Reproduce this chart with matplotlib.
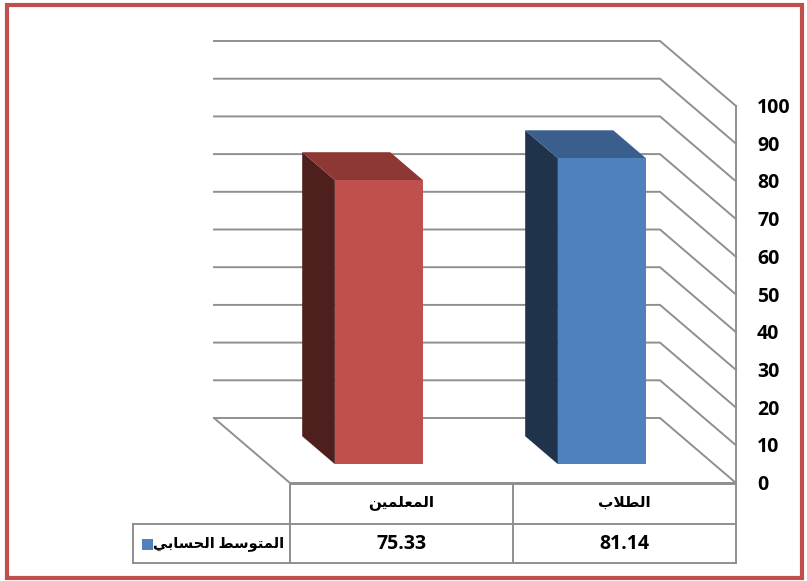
import matplotlib
matplotlib.use("Agg")
import matplotlib.pyplot as plt
from matplotlib.patches import Polygon, Rectangle

# ---------------- data ----------------
categories = ['المعلمين', 'الطلاب']
values = [75.33, 81.14]
series_name = 'المتوسط الحسابي'
y_ticks = [0, 10, 20, 30, 40, 50, 60, 70, 80, 90, 100]
bar_colors = [  # front, side, top
    ('#C0504D', '#4F1F1E', '#8E3835'),
    ('#4F81BD', '#1F334B', '#3A5F8C'),
]
legend_color = '#4F81BD'

# ---------------- Arabic shaping (presentation forms) ----------------
FORMS = {
    'ا': ('\uFE8D', '\uFE8E', None, None),
    'ب': ('\uFE8F', '\uFE90', '\uFE91', '\uFE92'),
    'ت': ('\uFE95', '\uFE96', '\uFE97', '\uFE98'),
    'ح': ('\uFEA1', '\uFEA2', '\uFEA3', '\uFEA4'),
    'س': ('\uFEB1', '\uFEB2', '\uFEB3', '\uFEB4'),
    'ط': ('\uFEC1', '\uFEC2', '\uFEC3', '\uFEC4'),
    'ع': ('\uFEC9', '\uFECA', '\uFECB', '\uFECC'),
    'ل': ('\uFEDD', '\uFEDE', '\uFEDF', '\uFEE0'),
    'م': ('\uFEE1', '\uFEE2', '\uFEE3', '\uFEE4'),
    'ن': ('\uFEE5', '\uFEE6', '\uFEE7', '\uFEE8'),
    'و': ('\uFEED', '\uFEEE', None, None),
    'ي': ('\uFEF1', '\uFEF2', '\uFEF3', '\uFEF4'),
    'LA': ('\uFEFB', '\uFEFC', None, None),
}


def shape(text):
    units = []
    i = 0
    while i < len(text):
        if text[i] == 'ل' and i + 1 < len(text) and text[i + 1] == 'ا':
            units.append('LA')
            i += 2
        else:
            units.append(text[i])
            i += 1
    out = []
    for k, u in enumerate(units):
        if u not in FORMS:
            out.append(u)
            continue
        f = FORMS[u]
        prev = units[k - 1] if k > 0 else None
        nxt = units[k + 1] if k + 1 < len(units) else None
        jp = prev in FORMS and FORMS[prev][2] is not None
        jn = nxt in FORMS and f[2] is not None
        if jp and jn:
            out.append(f[3])
        elif jp:
            out.append(f[1])
        elif jn:
            out.append(f[2])
        else:
            out.append(f[0])
    return ''.join(out)[::-1]


# ---------------- figure ----------------
W, H = 807, 581
fig = plt.figure(figsize=(W / 100, H / 100), dpi=100)
ax = fig.add_axes([0, 0, 1, 1])
ax.set_xlim(0, W)
ax.set_ylim(H, 0)
ax.axis('off')

FAM = ['Open Sans', 'DejaVu Sans']
GRID = '#8f8f8f'

# oblique projection of (category coord, value, depth)
X0, CAT_W, Y0, SY, DX, DY = 214, 223, 418, 3.77, 76, 65


def proj(c, v, d):
    return (X0 + c * CAT_W + d * DX, Y0 - v * SY + d * DY)


ncat = len(categories)
vmax = y_ticks[-1]

# back wall gridlines + right side diagonals
for t in y_ticks:
    p0 = proj(0, t, 0)
    p1 = proj(ncat, t, 0)
    p2 = proj(ncat, t, 1)
    ax.plot([p0[0], p1[0], p2[0]], [p0[1], p1[1], p2[1]], color=GRID, lw=1.4,
            solid_joinstyle='miter')
# floor left edge and front edge
a, b, c_ = proj(0, 0, 0), proj(0, 0, 1), proj(ncat, 0, 1)
ax.plot([a[0], b[0], c_[0]], [a[1], b[1], c_[1]], color=GRID, lw=1.4)
# right value axis
p0, p1 = proj(ncat, 0, 1), proj(ncat, vmax, 1)
ax.plot([p0[0], p1[0]], [p0[1], p1[1]], color=GRID, lw=1.4)
for t in y_ticks:
    x, y = proj(ncat, t, 1)
    ax.text(x + 21, y + 2, str(t), ha='left', va='center', fontsize=14,
            fontweight='bold', family=FAM, color='black')

# bars
D0, D1 = 0.28, 0.71
C0, C1 = 0.30, 0.695
for i, v in enumerate(values):
    front, side, top = bar_colors[i]
    l, r = i + C0, i + C1
    side_poly = [proj(l, 0, D0), proj(l, v, D0), proj(l, v, D1), proj(l, 0, D1)]
    top_poly = [proj(l, v, D0), proj(r, v, D0), proj(r, v, D1), proj(l, v, D1)]
    front_poly = [proj(l, 0, D1), proj(r, 0, D1), proj(r, v, D1), proj(l, v, D1)]
    ax.add_patch(Polygon(side_poly, closed=True, facecolor=side, edgecolor='none', zorder=3))
    ax.add_patch(Polygon(top_poly, closed=True, facecolor=top, edgecolor='none', zorder=3))
    ax.add_patch(Polygon(front_poly, closed=True, facecolor=front, edgecolor='none', zorder=3))

# data table
T_TOP, ROW_H, LEG_LEFT = 484, 39.5, 133
row1 = T_TOP + ROW_H
row2 = T_TOP + 2 * ROW_H
xl = proj(0, 0, 1)[0]
xr = proj(ncat, 0, 1)[0]
ax.plot([xl, xr], [T_TOP, T_TOP], color=GRID, lw=1.4)
ax.plot([LEG_LEFT, xr], [row1, row1], color=GRID, lw=1.4)
ax.plot([LEG_LEFT, xr], [row2, row2], color=GRID, lw=1.4)
ax.plot([LEG_LEFT, LEG_LEFT], [row1, row2], color=GRID, lw=1.4)
for k in range(ncat + 1):
    x = proj(k, 0, 1)[0]
    ax.plot([x, x], [T_TOP, row2], color=GRID, lw=1.4)

for i, (cat, v) in enumerate(zip(categories, values)):
    xc = proj(i + 0.5, 0, 1)[0]
    ax.text(xc, T_TOP + ROW_H / 2 - 1, shape(cat), ha='center', va='center',
            fontsize=11, fontweight='bold', family=FAM, color='black')
    ax.text(xc, row1 + ROW_H / 2 + 1, f'{v:.2f}', ha='center', va='center',
            fontsize=14, fontweight='bold', family=FAM, color='black')

# legend key in the table
ax.add_patch(Rectangle((142, row1 + 15), 11, 11, facecolor=legend_color, edgecolor='none'))
ax.text(xl - 6, row1 + ROW_H / 2, shape(series_name), ha='right', va='center',
        fontsize=10.5, fontweight='bold', family=FAM, color='black')

# outer red frame
ax.add_patch(Rectangle((7, 5), W - 12, H - 8, facecolor='none', edgecolor='#C0504D', lw=3))

fig.savefig('out.png', dpi=100)
